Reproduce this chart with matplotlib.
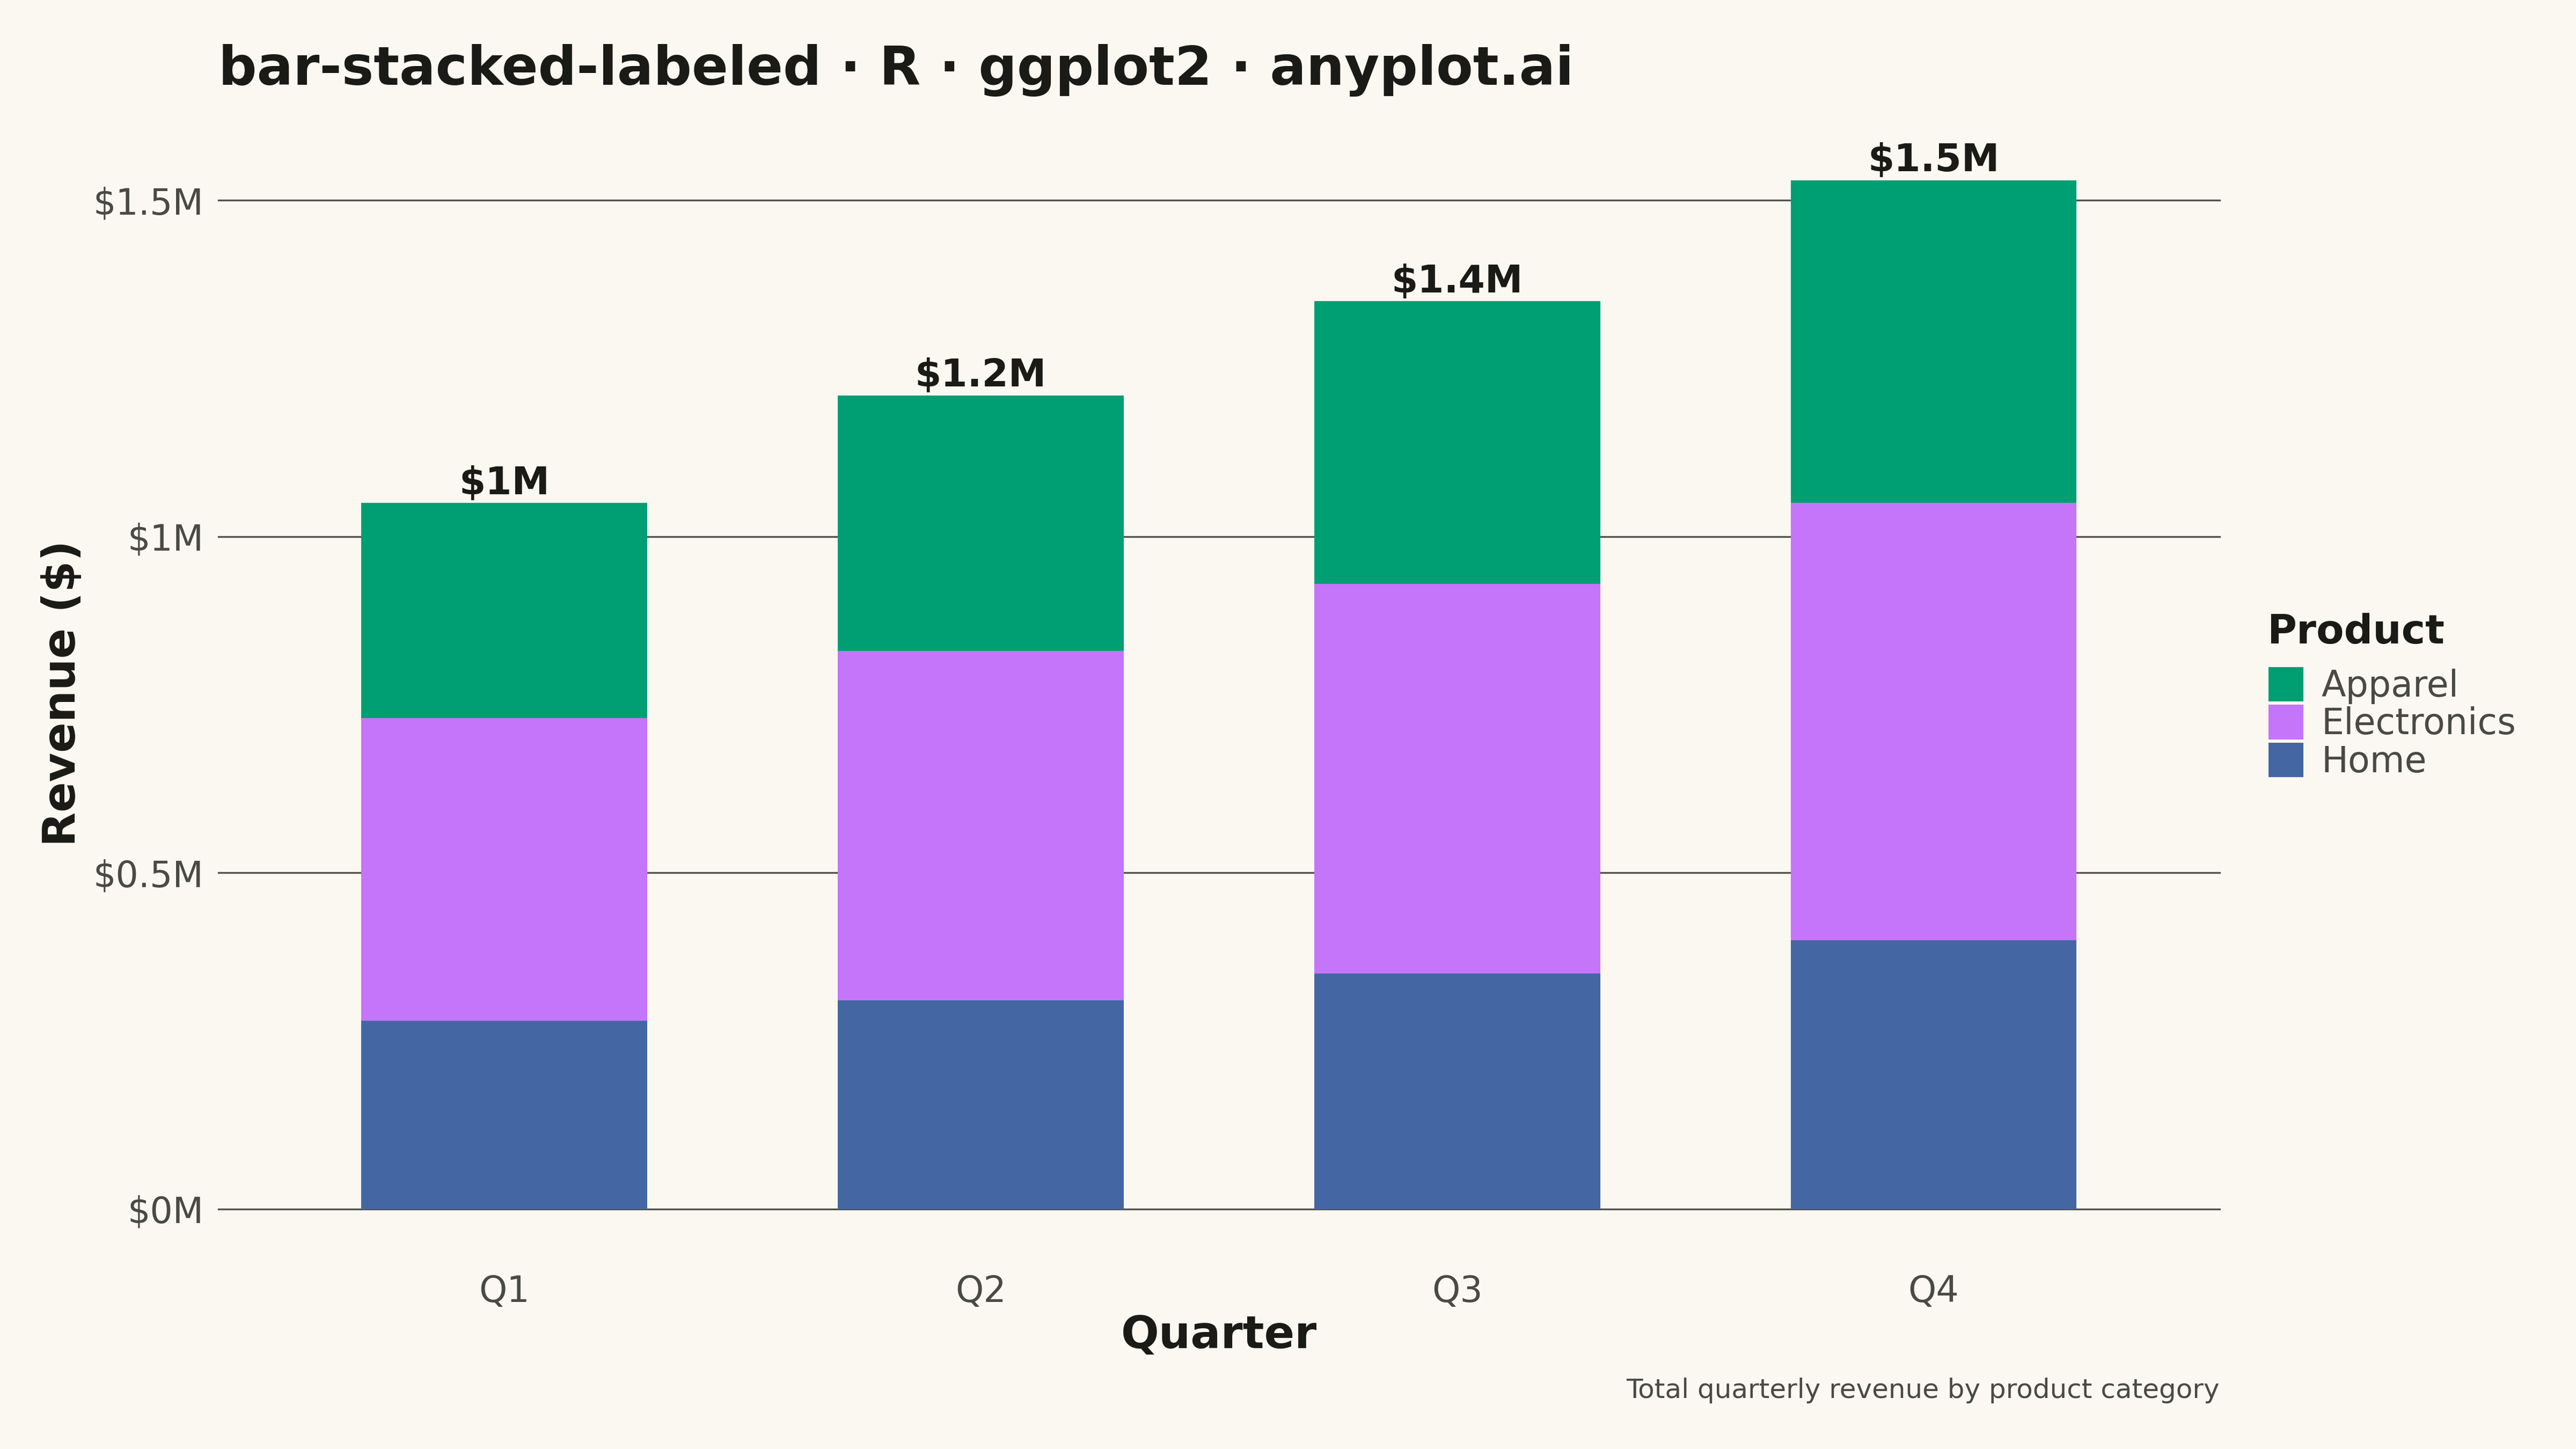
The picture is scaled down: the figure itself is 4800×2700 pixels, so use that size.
import matplotlib
matplotlib.use("Agg")
import matplotlib.pyplot as plt
from matplotlib.patches import Rectangle
from matplotlib.ticker import FuncFormatter
from decimal import Decimal, ROUND_HALF_EVEN

# revenue in thousands of dollars
quarters = ["Q1", "Q2", "Q3", "Q4"]
products = ["Apparel", "Electronics", "Home"]
home = [280, 310, 350, 400]
electronics = [450, 520, 580, 650]
apparel = [320, 380, 420, 480]

colors = {"Apparel": "#009E73", "Electronics": "#C475FA", "Home": "#4467A3"}
bg = "#FAF8F1"
ink = "#1A1A17"
soft = "#4A4A44"

plt.rcParams["font.family"] = ["DejaVu Sans"]


def millions(k):
    d = (Decimal(k) / 1000).quantize(Decimal("0.1"), rounding=ROUND_HALF_EVEN)
    return "$" + format(d.normalize(), "f") + "M"


fig = plt.figure(figsize=(16, 9), dpi=300, facecolor=bg)
ax = fig.add_axes([0.0848, 0.1656, 0.7768, 0.7425])
ax.set_facecolor(bg)

x = list(range(len(quarters)))
width = 0.6
bottom = [0] * len(quarters)
for name, vals in [("Home", home), ("Electronics", electronics), ("Apparel", apparel)]:
    ax.bar(x, [v * 1000 for v in vals], width=width, bottom=[b * 1000 for b in bottom],
           color=colors[name], linewidth=0, zorder=2)
    bottom = [b + v for b, v in zip(bottom, vals)]

totals = bottom
for xi, t in zip(x, totals):
    ax.annotate(millions(t), (xi, t * 1000), xytext=(0, 4), textcoords="offset points",
                ha="center", va="baseline", fontsize=17, fontweight="bold", color=ink)

ax.set_xlim(-0.6, 3.6)
ax.set_ylim(0, 1.6e6)
ax.set_yticks([0, 0.5e6, 1.0e6, 1.5e6])
ax.yaxis.set_major_formatter(FuncFormatter(lambda v, p: f"${v / 1e6:g}M"))
ax.set_xticks(x)
ax.set_xticklabels(quarters)
ax.grid(axis="y", color=ink, linewidth=0.8, alpha=0.75, zorder=0)
ax.set_axisbelow(True)
for gl in ax.get_ygridlines():
    gl.set_clip_on(False)
for s in ax.spines.values():
    s.set_visible(False)
ax.tick_params(axis="y", length=0, pad=6.6, labelsize=16, labelcolor=soft)
ax.tick_params(axis="x", length=0, pad=29, labelsize=16, labelcolor=soft)

fig.text(0.0848, 0.9415, "bar-stacked-labeled · R · ggplot2 · anyplot.ai",
         fontsize=24, fontweight="bold", color=ink, ha="left", va="baseline")
fig.text(0.4732, 0.0782, "Quarter", fontsize=20, fontweight="bold", color=ink,
         ha="center", va="center")
fig.text(0.0242, 0.5215, "Revenue ($)", fontsize=20, fontweight="bold", color=ink,
         ha="center", va="center", rotation=90)
fig.text(0.8616, 0.0351, "Total quarterly revenue by product category",
         fontsize=12, color=soft, ha="right", va="baseline")

# legend drawn by hand to match ggplot's compact keys
fig.text(0.8801, 0.5635, "Product", fontsize=18, fontweight="bold", color=ink,
         ha="left", va="center")
key_w, key_h = 0.0134, 0.0238
key_tops = [1 - 406 / 882, 1 - 429 / 882, 1 - 452 / 882]
for name, top in zip(products, key_tops):
    fig.add_artist(Rectangle((0.8807, top - key_h), key_w, key_h,
                             transform=fig.transFigure, facecolor=colors[name],
                             edgecolor="none"))
    fig.text(0.9011, top - key_h / 2 - 0.0015, name, fontsize=16, color=soft,
             ha="left", va="center")

fig.savefig("out.png", dpi=300, facecolor=bg)
